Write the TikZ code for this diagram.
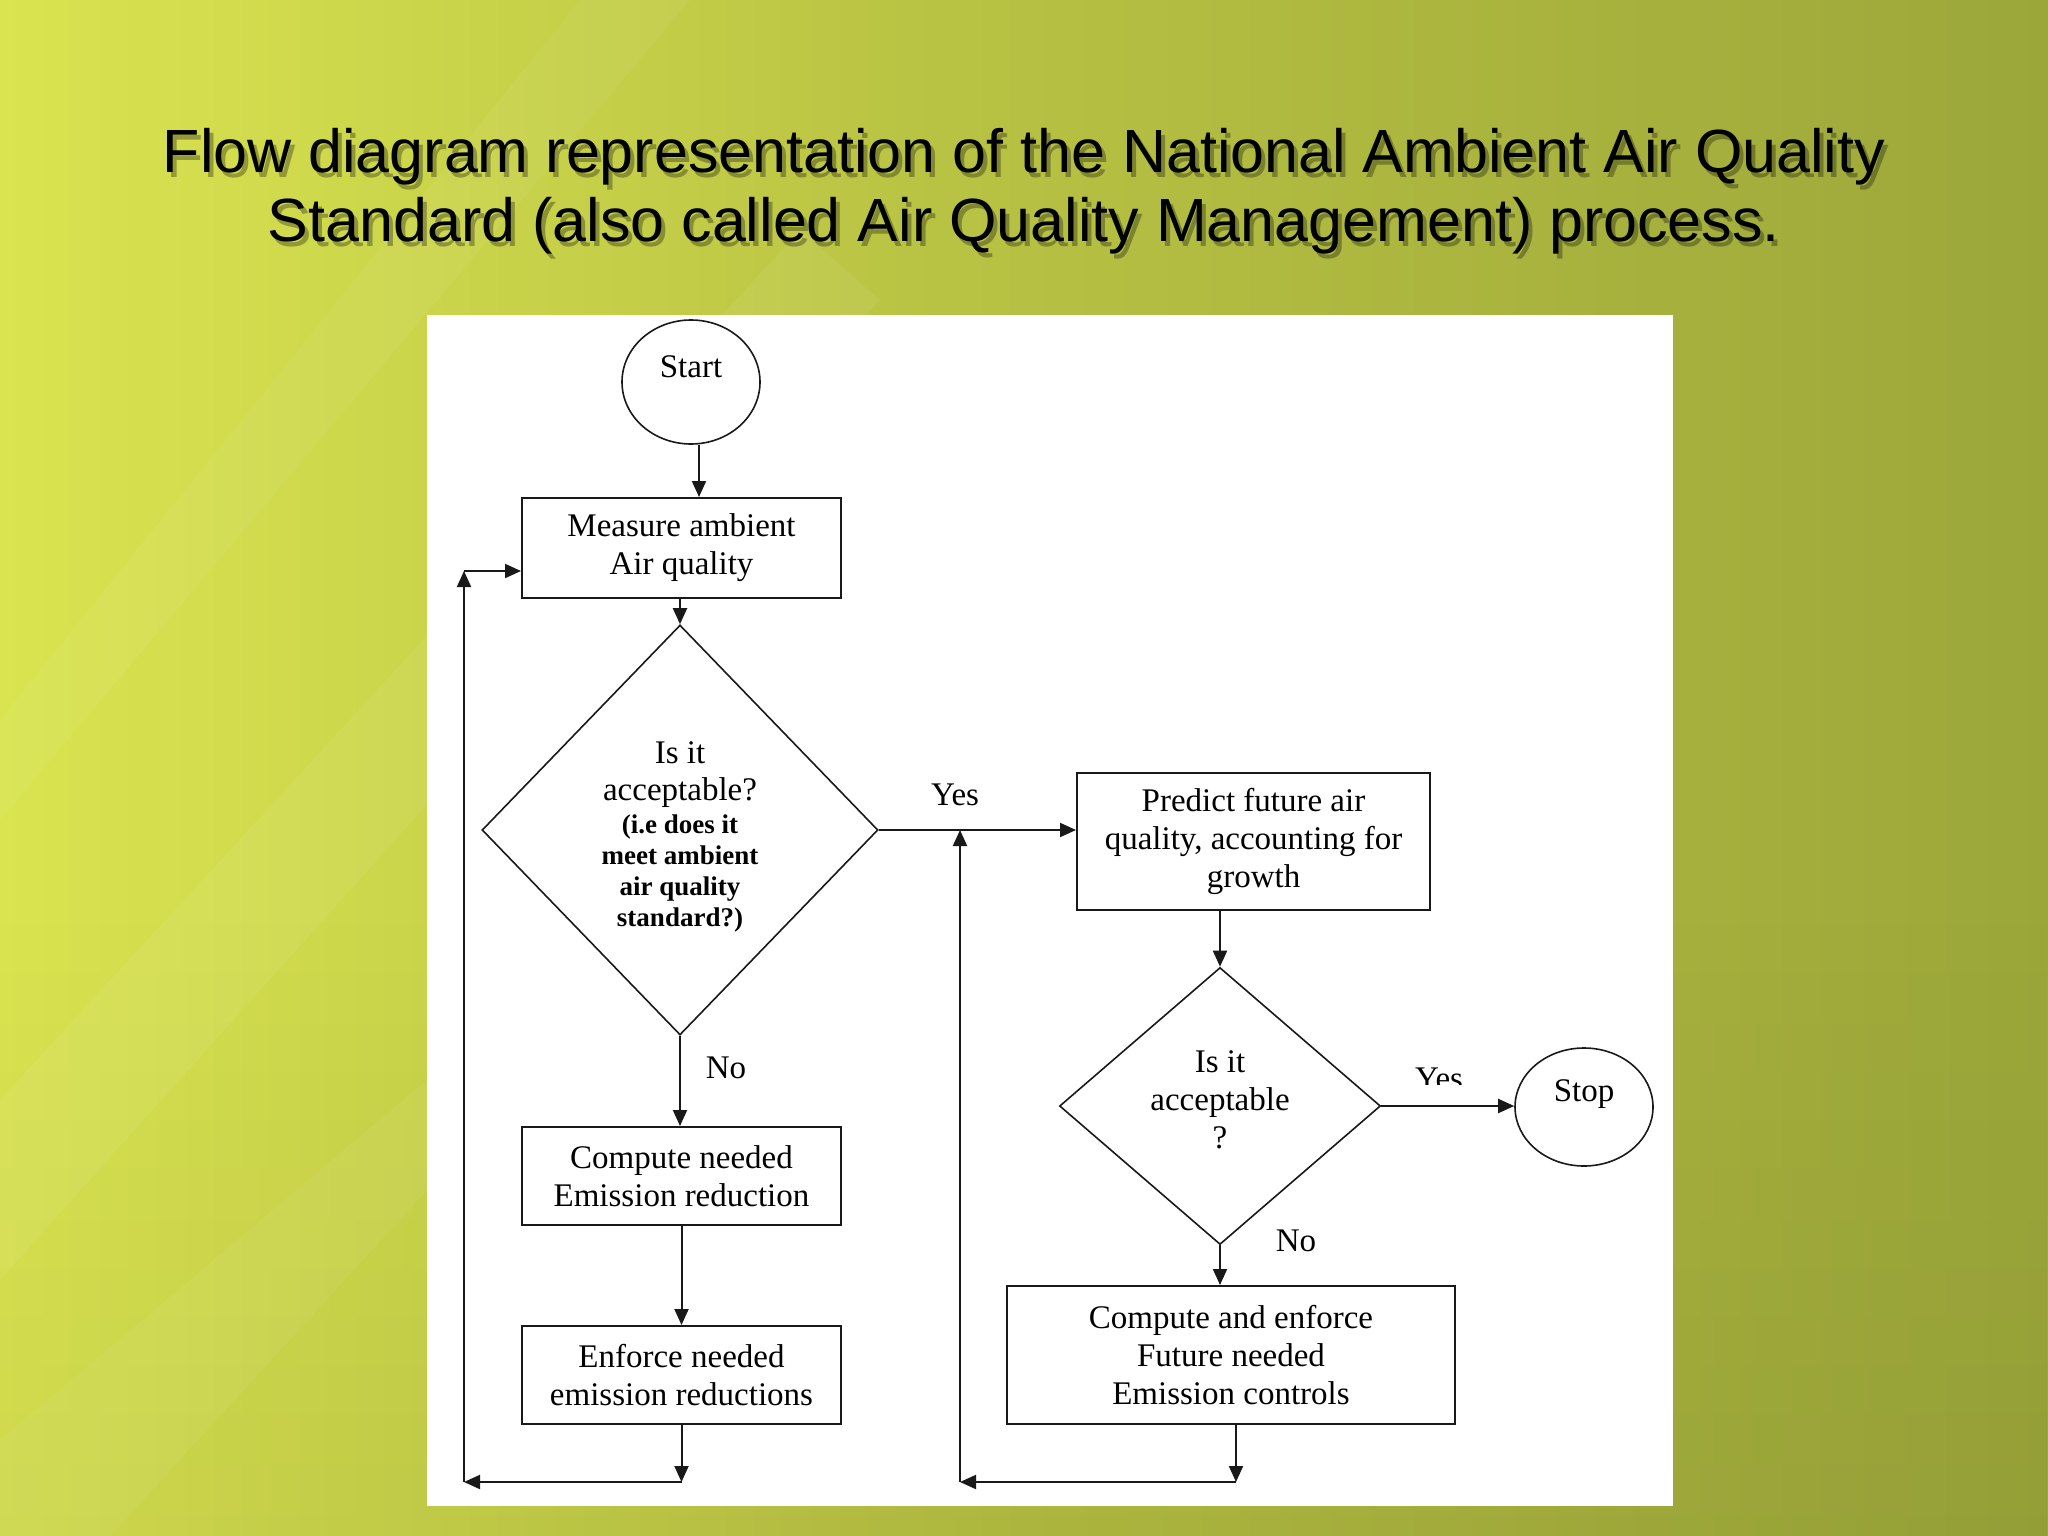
\documentclass[tikz,border=0pt]{standalone}
\usepackage{fontspec}
\setmainfont{Liberation Serif}
\newfontfamily\titlefont{Liberation Sans}
\usetikzlibrary{shapes.geometric,arrows.meta,calc,fadings}
\definecolor{bga}{RGB}{238,246,96}
\definecolor{bgb}{RGB}{218,228,80}
\definecolor{bgc}{RGB}{182,192,66}
\definecolor{bgd}{RGB}{156,167,58}
\definecolor{bge}{RGB}{136,148,52}
\definecolor{inkc}{RGB}{25,25,25}
\pgfdeclarehorizontalshading{bgshade}{100bp}{color(0bp)=(bga); color(25bp)=(bgb); color(50bp)=(bgc); color(75bp)=(bgd); color(100bp)=(bge)}
\newcommand\dsmall{\bfseries\fontsize{27}{31}\selectfont}
\begin{document}
\begin{tikzpicture}[x=1pt,y=-1pt,
  box/.style={draw=inkc, line width=2pt, rectangle, inner sep=0pt, align=center,
    font=\fontsize{33}{38}\selectfont},
  dia/.style={draw=inkc, line width=1.6pt, diamond, inner sep=0pt},
  term/.style={draw=inkc, line width=1.6pt, ellipse, inner sep=0pt},
  txt/.style={font=\fontsize{33}{38}\selectfont, align=center, inner sep=0pt},
  arr/.style={draw=inkc, line width=2pt, -{Triangle[length=16pt,width=14pt]}},
  ttl/.style={font=\titlefont\fontsize{61}{70}\selectfont, inner sep=0pt},
  shd/.style={ttl, text=black, opacity=0.3}
]
\useasboundingbox (0,0) rectangle (2048,1536);
% background
\shade[shading=bgshade] (0,0) rectangle (2048,1536);
\fill[black, opacity=0.05, path fading=north] (0,900) rectangle (2048,1536);
\fill[white, opacity=0.06] (0,1100) -- (0,1280) -- (880,300) -- (800,230) -- cycle;
\fill[white, opacity=0.05] (0,720) -- (0,820) -- (690,0) -- (580,0) -- cycle;
\fill[white, opacity=0.05] (0,1440) -- (0,1536) -- (110,1536) -- (427,1190) -- (427,1080) -- cycle;
% title
\node[shd] (title1s) at (1028,162) {Flow diagram representation of the National Ambient Air Quality};
\node[shd] (title2s) at (1028,231) {Standard (also called Air Quality Management) process.};
\node[ttl, text=black] (title1) at (1024,157) {Flow diagram representation of the National Ambient Air Quality};
\node[ttl, text=black] (title2) at (1024,226) {Standard (also called Air Quality Management) process.};
% panel
\fill[white] (427,315) rectangle (1673,1506);
% nodes
\node[term, minimum width=138pt, minimum height=124pt,
  label={[txt, yshift=15pt]center:Start}] (start) at (691,382) {};
\node[box, minimum width=319pt, minimum height=100pt] (meas) at (681.5,548) {Measure ambient\\Air quality};
\node[dia, minimum width=396pt, minimum height=410pt] (dia1) at (680,830) {};
\node[txt, font=\fontsize{33}{37}\selectfont] (dia1t) at (680,838) {\begin{tabular}{@{}c@{}}Is it\\acceptable?\\[-4pt]
  \dsmall (i.e does it\\[-6pt]\dsmall meet ambient\\[-6pt]\dsmall air quality\\[-6pt]\dsmall standard?)\end{tabular}};
\node[box, minimum width=319pt, minimum height=98pt] (comp) at (681.5,1176) {Compute needed\\Emission reduction};
\node[box, minimum width=319pt, minimum height=98pt] (enf) at (681.5,1375) {Enforce needed\\emission reductions};
\node[box, minimum width=353pt, minimum height=137pt] (pred) at (1253.5,841.5) {Predict future air\\quality, accounting for\\growth};
\node[dia, minimum width=321pt, minimum height=277pt] (dia2) at (1220,1106) {};
\node[txt] (dia2t) at (1220,1100) {Is it\\acceptable\\?};
\node[term, minimum width=138pt, minimum height=118pt,
  label={[txt, yshift=13pt]center:Stop}] (stop) at (1584,1107) {};
\node[box, minimum width=448pt, minimum height=138pt] (ceb) at (1231,1355) {Compute and enforce\\Future needed\\Emission controls};
% edge labels
\node[txt] (yes1) at (955,795) {Yes};
\node[txt] (no1) at (726,1068) {No};
\node[txt] (no2) at (1296,1241) {No};
\begin{scope}
  \clip (1380,1000) rectangle (1500,1084);
  \node[txt] (yes2) at (1439,1079) {Yes};
\end{scope}
% junction coordinates
\coordinate (lc1) at (464,1482);
\coordinate (tl) at (464,571);
\coordinate (rc2) at (1236,1482);
\coordinate (lc2) at (960,1482);
\coordinate (j1) at (960,830);
% connectors
\draw[arr] ([xshift=8pt]start.south) -- ([xshift=8pt]start.south |- meas.north);
\draw[arr] (meas.south -| dia1.north) -- (dia1.north);
\draw[arr] (dia1.east) -- (dia1.east -| pred.west);
\draw[arr] (dia1.south) -- (dia1.south |- comp.north);
\draw[arr] (comp.south) -- (enf.north);
\draw[arr] (enf.south) -- (enf.south |- lc1);
\draw[arr] (enf.south |- lc1) -- (lc1);
\draw[arr] (lc1) -- (tl);
\draw[arr] (tl) -- (tl -| meas.west);
\draw[arr] (pred.south -| dia2.north) -- (dia2.north);
\draw[arr] (dia2.east) -- (dia2.east -| stop.west);
\draw[arr] (dia2.south) -- (dia2.south |- ceb.north);
\draw[arr] (rc2 |- ceb.south) -- (rc2);
\draw[arr] (rc2) -- (lc2);
\draw[arr] (lc2) -- (j1);
\end{tikzpicture}
\end{document}
